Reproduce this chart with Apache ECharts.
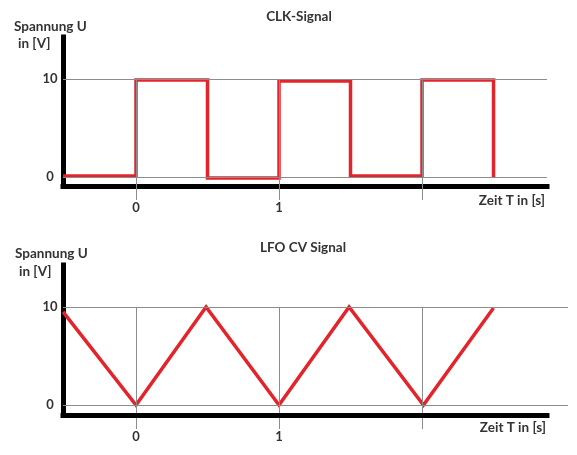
<!DOCTYPE html>
<html><head><meta charset="utf-8">
<script src="https://cdn.jsdelivr.net/npm/echarts@6/dist/echarts.min.js"></script>
<style>html,body{margin:0;padding:0;background:#fff}#c{width:577px;height:455px}</style>
</head><body><div id="c"></div>
<script>
// ---- data ----
const clkTime = [-0.51, 0, 0, 0.5, 0.5, 1, 1, 1.5, 1.5, 2, 2, 2.5, 2.5];
const clkVolt = [0.1, 0.1, 9.9, 9.9, -0.1, -0.1, 9.8, 9.8, 0.1, 0.1, 9.9, 9.9, 0];
const lfoTime = [-0.51, 0, 0.49, 1, 1.49, 2.01, 2.5];
const lfoVolt = [9.5, 0, 10, 0, 10, 0, 9.9];
const xTickValues = [0, 1, 2];
const xTickLabels = [0, 1];
const yTickLabels = [0, 10];
const yGridLevels = [0, 10];
const chartTitles = ['CLK-Signal', 'LFO CV Signal'];
const yAxisName = ['Spannung U', 'in [V]'];
const xAxisName = 'Zeit T in [s]';

// ---- layout ----
const X_MIN = -0.5105, X_AXIS_END = 2.874;
const xMax = [2.874, 3.021];
const gridW = [484, 505];
const yRanges = [[-0.918, 14.29], [-1.02, 14.29]];
const TXT = '#333333', GRID = '#8c8c8c', RED = '#e3242b';
const FONT = 'Lato';

const chart = echarts.init(document.getElementById('c'), null, {renderer: 'canvas'});

function xAx(i) {
  return {
    gridIndex: i, type: 'value', min: X_MIN, max: xMax[i],
    axisLine: {show: i === 0, onZero: false, lineStyle: {color: '#000', width: 5, cap: 'square'}},
    axisTick: {show: true, customValues: xTickValues, length: 14, lineStyle: {color: GRID, width: 1}},
    axisLabel: {customValues: xTickLabels, margin: 15, fontSize: 13, fontWeight: 'bold', color: TXT, fontFamily: FONT},
    splitLine: {show: false}
  };
}
function yAx(i) {
  return {
    gridIndex: i, type: 'value', min: yRanges[i][0], max: yRanges[i][1],
    axisLine: {show: true, onZero: false, lineStyle: {color: '#000', width: 5, cap: 'square'}},
    axisTick: {show: false},
    axisLabel: {customValues: yTickLabels, align: 'center', margin: 13, fontSize: 13, fontWeight: 'bold', color: TXT, fontFamily: FONT},
    splitLine: {show: false}
  };
}
function gridMarks(i) {
  const ymin = yRanges[i][0];
  const data = yGridLevels.map(v => ({yAxis: v}));
  xTickValues.forEach(t => data.push([{coord: [t, 10]}, {coord: [t, ymin]}]));
  if (i === 1) {
    // black time axis that stops before the grid's right edge
    data.push([
      {coord: [X_MIN, ymin], lineStyle: {color: '#000', width: 5, cap: 'square'}},
      {coord: [X_AXIS_END, ymin]}
    ]);
  }
  return {
    silent: true, symbol: ['none', 'none'], animation: false,
    label: {show: false},
    lineStyle: {color: GRID, width: 1, type: 'solid'},
    emphasis: {disabled: true},
    data: data
  };
}
function series(i, t, v) {
  return {
    type: 'line', xAxisIndex: i, yAxisIndex: i, z: 3,
    data: t.map((x, k) => [x, v[k]]),
    symbol: 'none', animation: false,
    lineStyle: {color: RED, width: 3.5, join: 'miter'},
    markLine: gridMarks(i)
  };
}
function txt(x, y, s, align) {
  return {type: 'text', x: x, y: y, style: {text: s, fill: TXT, font: 'bold 13.5px ' + FONT, textAlign: align, textVerticalAlign: 'middle'}};
}

chart.setOption({
  backgroundColor: '#fff',
  animation: false,
  grid: [
    {left: 63, top: 37, width: gridW[0], height: 149},
    {left: 63, top: 265, width: gridW[1], height: 150}
  ],
  xAxis: [xAx(0), xAx(1)],
  yAxis: [yAx(0), yAx(1)],
  series: [series(0, clkTime, clkVolt), series(1, lfoTime, lfoVolt)],
  graphic: [
    txt(299, 17, chartTitles[0], 'center'),
    txt(14, 27, yAxisName[0], 'left'),
    txt(18, 44, yAxisName[1], 'left'),
    txt(545, 201, xAxisName, 'right'),
    txt(303, 248, chartTitles[1], 'center'),
    txt(15, 254, yAxisName[0], 'left'),
    txt(19, 272, yAxisName[1], 'left'),
    txt(546, 428, xAxisName, 'right')
  ]
});
</script>
</body></html>
